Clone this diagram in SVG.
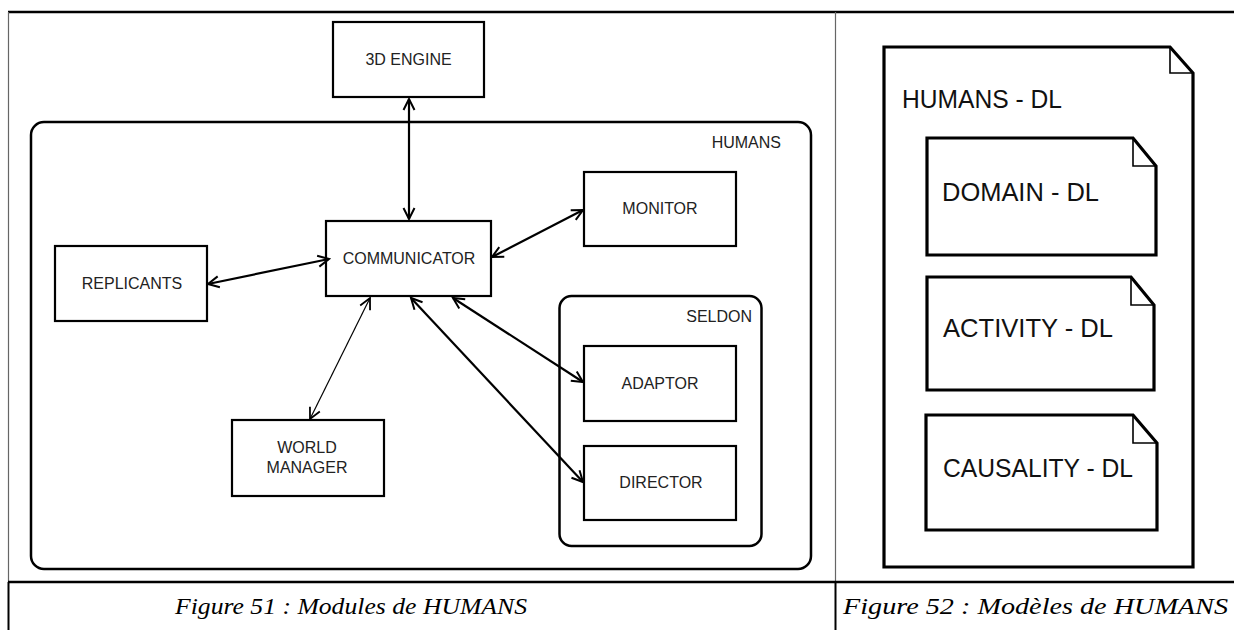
<svg xmlns="http://www.w3.org/2000/svg" width="1234" height="630" viewBox="0 0 1234 630">
<style>
.box{fill:#fff;stroke:#000;stroke-width:2.2}
.grp{fill:none;stroke:#000;stroke-width:2.5}
.lbl{font-family:"Liberation Sans",Arial,sans-serif;font-size:16px;fill:#222;text-anchor:middle}
.glbl{font-family:"Liberation Sans",Arial,sans-serif;font-size:16px;fill:#222;text-anchor:end}
.doc{fill:#fff;stroke:#000;stroke-width:3.2;stroke-linejoin:miter}
.fold{fill:none;stroke:#000;stroke-width:1.6}
.dl{font-family:"Liberation Sans",Arial,sans-serif;font-size:26px;fill:#111}
.cap{font-family:"Liberation Serif","Times New Roman",serif;font-style:italic;font-size:24px;fill:#000}
.con{fill:none;stroke:#000;stroke-width:2.2}
.thin{fill:none;stroke:#000;stroke-width:1.2}
</style>
<defs>
<marker id="ah" markerUnits="userSpaceOnUse" markerWidth="16" markerHeight="16" viewBox="0 0 16 16" refX="14" refY="8" orient="auto-start-reverse">
<path d="M3,2.5 L14,8 L3,13.5" fill="none" stroke="#000" stroke-width="2"/>
</marker>
<marker id="ahs" markerUnits="userSpaceOnUse" markerWidth="16" markerHeight="16" viewBox="0 0 16 16" refX="14" refY="8" orient="auto-start-reverse">
<path d="M3,2.5 L14,8 L3,13.5" fill="none" stroke="#000" stroke-width="1.8"/>
</marker>
</defs>
<rect width="1234" height="630" fill="#fff"/>
<g id="table">
<line x1="8" y1="12" x2="1234" y2="12" stroke="#000" stroke-width="2.5"/>
<line x1="8.5" y1="12" x2="8.5" y2="582" stroke="#666" stroke-width="1.2"/>
<line x1="835.5" y1="12" x2="835.5" y2="582" stroke="#666" stroke-width="1.2"/>
<line x1="8.5" y1="582" x2="8.5" y2="630" stroke="#000" stroke-width="2"/>
<line x1="835.5" y1="582" x2="835.5" y2="630" stroke="#000" stroke-width="2"/>
<line x1="8" y1="582" x2="1234" y2="582" stroke="#000" stroke-width="2.5"/>
<text class="cap" x="175" y="614" textLength="352" lengthAdjust="spacingAndGlyphs">Figure 51 : Modules de HUMANS</text>
<text class="cap" x="843" y="614" textLength="385" lengthAdjust="spacingAndGlyphs">Figure 52 : Modèles de HUMANS</text>
</g>
<g id="humans">
<rect class="grp" x="31" y="122" width="780" height="447" rx="13"/>
<text class="glbl" x="781" y="148">HUMANS</text>
</g>
<g id="seldon">
<rect class="grp" x="559.5" y="296" width="202" height="250" rx="12"/>
<text class="glbl" x="752" y="322">SELDON</text>
</g>
<g id="engine3d">
<rect class="box" x="333" y="22" width="151" height="75"/>
<text class="lbl" x="408.5" y="65">3D ENGINE</text>
</g>
<g id="monitor">
<rect class="box" x="584" y="172" width="152" height="74"/>
<text class="lbl" x="660" y="214">MONITOR</text>
</g>
<g id="communicator">
<rect class="box" x="326" y="221" width="165" height="75"/>
<text class="lbl" x="409" y="264">COMMUNICATOR</text>
</g>
<g id="replicants">
<rect class="box" x="55" y="246" width="152" height="75"/>
<text class="lbl" x="132" y="289">REPLICANTS</text>
</g>
<g id="adaptor">
<rect class="box" x="584" y="346" width="152" height="75"/>
<text class="lbl" x="660" y="389">ADAPTOR</text>
</g>
<g id="director">
<rect class="box" x="584" y="446" width="152" height="74"/>
<text class="lbl" x="661" y="488">DIRECTOR</text>
</g>
<g id="worldmanager">
<rect class="box" x="232" y="420" width="152" height="76"/>
<text class="lbl" x="307" y="453">WORLD</text>
<text class="lbl" x="307" y="473">MANAGER</text>
</g>
<g id="connectors">
<line class="con" x1="409" y1="99" x2="409" y2="219" marker-start="url(#ah)" marker-end="url(#ah)"/>
<line class="con" x1="492" y1="257" x2="583" y2="210" marker-start="url(#ah)" marker-end="url(#ah)"/>
<line class="con" x1="208" y1="284" x2="329" y2="259" marker-start="url(#ah)" marker-end="url(#ah)"/>
<line class="thin" x1="310" y1="419" x2="370" y2="298" marker-start="url(#ahs)" marker-end="url(#ahs)"/>
<line class="con" x1="411" y1="298" x2="583" y2="482" marker-start="url(#ah)" marker-end="url(#ah)"/>
<line class="con" x1="453" y1="298" x2="583" y2="382" marker-start="url(#ah)" marker-end="url(#ah)"/>
</g>
<g id="humans-dl">
<path class="doc" d="M884,47 H1170 L1193,73 V567 H884 Z"/>
<path class="fold" d="M1170,47 V73 H1193"/>
<text class="dl" x="902" y="108" textLength="160" lengthAdjust="spacingAndGlyphs">HUMANS - DL</text>
</g>
<g id="domain-dl">
<path class="doc" d="M927,138 H1133 L1156,166 V255 H927 Z"/>
<path class="fold" d="M1133,138 V166 H1156"/>
<text class="dl" x="942" y="201" textLength="157" lengthAdjust="spacingAndGlyphs">DOMAIN - DL</text>
</g>
<g id="activity-dl">
<path class="doc" d="M927,277 H1131 L1154,305 V390 H927 Z"/>
<path class="fold" d="M1131,277 V305 H1154"/>
<text class="dl" x="943" y="337" textLength="170" lengthAdjust="spacingAndGlyphs">ACTIVITY - DL</text>
</g>
<g id="causality-dl">
<path class="doc" d="M926,415 H1133 L1157,443 V530 H926 Z"/>
<path class="fold" d="M1133,415 V443 H1157"/>
<text class="dl" x="943" y="477" textLength="190" lengthAdjust="spacingAndGlyphs">CAUSALITY - DL</text>
</g>
</svg>
